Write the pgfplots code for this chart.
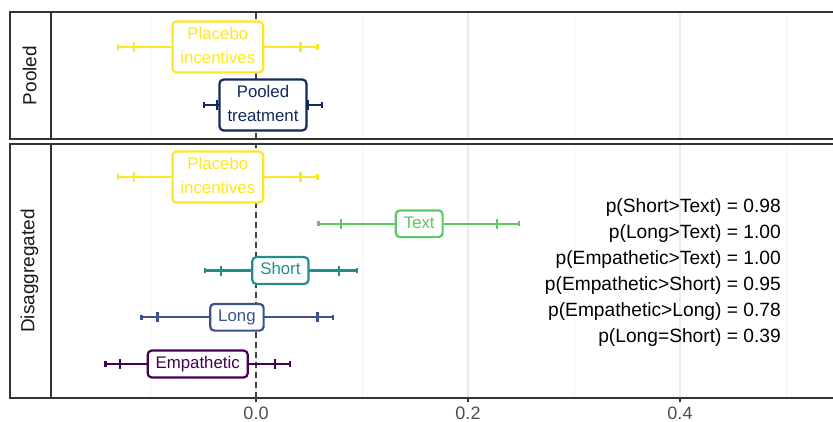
\documentclass[border=0pt]{standalone}
\usepackage{pgfplots}
\pgfplotsset{compat=1.18}
\usepackage{fontspec}
\setmainfont{Liberation Sans}
\definecolor{cPla}{HTML}{FDE725}
\definecolor{cTxt}{HTML}{5DC863}
\definecolor{cSho}{HTML}{21908C}
\definecolor{cLon}{HTML}{3B528B}
\definecolor{cEmp}{HTML}{440154}
\definecolor{cPoo}{HTML}{112A5A}
\definecolor{cFrame}{HTML}{333333}
\definecolor{cDash}{HTML}{444444}
\definecolor{cGridMaj}{HTML}{EBEBEB}
\definecolor{cGridMin}{HTML}{F3F3F3}
\definecolor{cTick}{HTML}{4D4D4D}
\newcommand\st{\rule[-3.5pt]{0pt}{15.5pt}}
\pgfplotsset{
  panel/.style={
    scale only axis, width=790pt,
    xmin=-0.1934, xmax=0.5519,
    axis line style={draw=cFrame, line width=2pt},
    xtick={0,0.2,0.4}, minor xtick={-0.1,0.1,0.3,0.5},
    ytick=\empty,
    xmajorgrids, xminorgrids,
    major grid style={cGridMaj, line width=1.3pt},
    minor grid style={cGridMin, line width=0.8pt},
    minor tick length=0pt,
  },
  ciline/.style={color=#1, line width=2.2pt, mark=none},
  capA/.style={color=#1, only marks, mark=|, mark size=2.6pt, mark options={line width=2.2pt}},
  capB/.style={color=#1, only marks, mark=|, mark size=5pt, mark options={line width=2.2pt}},
  lab/.style={only marks, mark=none,
    every node near coord/.append style={anchor=center, rounded corners=4pt,
      draw=#1, fill=white, line width=2.2pt, text=#1,
      font=\fontsize{16.8}{24}\selectfont, inner xsep=8pt, inner ysep=5.6pt, align=center}},
  vline/.style={color=cDash, line width=1.8pt, dash pattern=on 6pt off 4pt},
}
\begin{document}
\begin{tikzpicture}[x=1pt,y=1pt]
\useasboundingbox (0,0) rectangle (833,422);
% ---------- top panel: Pooled ----------
\begin{axis}[panel, name=top, at={(51pt,283pt)}, anchor=south west,
  height=127pt, ymin=0.414, ymax=2.603,
  xticklabels={}, major tick length=0pt]
\addplot[vline] coordinates {(0,0.414) (0,2.603)};
% Placebo incentives
\addplot[ciline=cPla] coordinates {(-0.130,2) (0.058,2)};
\addplot[capA=cPla] coordinates {(-0.130,2) (0.058,2)};
\addplot[capB=cPla] coordinates {(-0.115,2) (0.042,2)};
% Pooled treatment
\addplot[ciline=cPoo] coordinates {(-0.049,1) (0.062,1)};
\addplot[capA=cPoo] coordinates {(-0.049,1) (0.062,1)};
\addplot[capB=cPoo] coordinates {(-0.037,1) (0.049,1)};
\addplot[lab=cPla, nodes near coords={\st Placebo\\\st incentives}] coordinates {(-0.036,2)};
\addplot[lab=cPoo, nodes near coords={\st Pooled\\\st treatment}] coordinates {(0.0066,1)};
\end{axis}
% ---------- bottom panel: Disaggregated ----------
\begin{axis}[panel, name=bot, at={(51pt,24pt)}, anchor=south west,
  height=254pt, ymin=0.273, ymax=5.706,
  xticklabels={0.0,0.2,0.4}, xtick pos=bottom, tick align=outside,
  major tick length=4.5pt,
  major tick style={cFrame, line width=1.4pt},
  xticklabel style={font=\fontsize{18}{18}\selectfont, text=cTick, inner sep=0pt, anchor=north, yshift=-4pt}]
\addplot[vline] coordinates {(0,0.273) (0,5.706)};
% Placebo
\addplot[ciline=cPla] coordinates {(-0.130,5) (0.058,5)};
\addplot[capA=cPla] coordinates {(-0.130,5) (0.058,5)};
\addplot[capB=cPla] coordinates {(-0.115,5) (0.042,5)};
% Text
\addplot[ciline=cTxt] coordinates {(0.059,4) (0.248,4)};
\addplot[capA=cTxt] coordinates {(0.059,4) (0.248,4)};
\addplot[capB=cTxt] coordinates {(0.080,4) (0.227,4)};
% Short
\addplot[ciline=cSho] coordinates {(-0.048,3) (0.095,3)};
\addplot[capA=cSho] coordinates {(-0.048,3) (0.095,3)};
\addplot[capB=cSho] coordinates {(-0.033,3) (0.078,3)};
% Long
\addplot[ciline=cLon] coordinates {(-0.108,2) (0.073,2)};
\addplot[capA=cLon] coordinates {(-0.108,2) (0.073,2)};
\addplot[capB=cLon] coordinates {(-0.093,2) (0.058,2)};
% Empathetic
\addplot[ciline=cEmp] coordinates {(-0.142,1) (0.032,1)};
\addplot[capA=cEmp] coordinates {(-0.142,1) (0.032,1)};
\addplot[capB=cEmp] coordinates {(-0.128,1) (0.018,1)};
% labels
\addplot[lab=cPla, nodes near coords={\st Placebo\\\st incentives}] coordinates {(-0.036,5)};
\addplot[lab=cTxt, nodes near coords={\st Text}] coordinates {(0.154,4)};
\addplot[lab=cSho, nodes near coords={\st Short}] coordinates {(0.023,3)};
\addplot[lab=cLon, nodes near coords={\st Long}] coordinates {(-0.018,2)};
\addplot[lab=cEmp, nodes near coords={\st Empathetic}] coordinates {(-0.055,1)};
\node[anchor=east, align=right, font=\fontsize{19.2}{26.06}\selectfont, inner sep=0pt]
  at (axis cs:0.4953,2.95)
  {p(Short>Text) = 0.98\\p(Long>Text) = 1.00\\p(Empathetic>Text) = 1.00\\p(Empathetic>Short) = 0.95\\p(Empathetic>Long) = 0.78\\p(Long=Short) = 0.39};
\end{axis}
% ---------- strips ----------
\draw[cFrame, line width=1.2pt] ([xshift=-41pt]top.north west) rectangle (top.south west);
\draw[cFrame, line width=1.2pt] ([xshift=-41pt]bot.north west) rectangle (bot.south west);
\node[rotate=90, font=\fontsize{19}{19}\selectfont, text=black!90] at ([xshift=-21.5pt]top.west) {Pooled};
\node[rotate=90, font=\fontsize{19}{19}\selectfont, text=black!90] at ([xshift=-21.5pt]bot.west) {Disaggregated};
\draw[cFrame, line width=2pt] (top.north west) -- (top.south west);
\draw[cFrame, line width=2pt] (bot.north west) -- (bot.south west);
\end{tikzpicture}
\end{document}
